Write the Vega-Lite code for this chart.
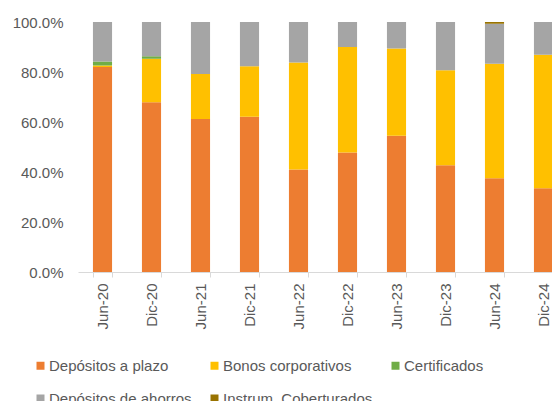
{
  "$schema": "https://vega.github.io/schema/vega-lite/v6.json",
  "autosize": {"type": "none"},
  "padding": {"left": 78, "top": 22, "right": 0, "bottom": 129},
  "width": 474,
  "height": 250,
  "background": "white",
  "config": {
    "font": "Liberation Sans",
    "view": {"stroke": null},
    "axis": {"labelFont": "Liberation Sans", "labelColor": "#595959", "labelFontSize": 15, "grid": false, "title": null}
  },
  "data": {"values": [
    {"periodo": "Jun-20", "serie": "Depósitos a plazo", "orden": 1, "valor": 0.820},
    {"periodo": "Jun-20", "serie": "Bonos corporativos", "orden": 2, "valor": 0.006},
    {"periodo": "Jun-20", "serie": "Certificados", "orden": 3, "valor": 0.016},
    {"periodo": "Jun-20", "serie": "Depósitos de ahorros", "orden": 4, "valor": 0.158},
    {"periodo": "Jun-20", "serie": "Instrum. Coberturados", "orden": 5, "valor": 0},
    {"periodo": "Dic-20", "serie": "Depósitos a plazo", "orden": 1, "valor": 0.679},
    {"periodo": "Dic-20", "serie": "Bonos corporativos", "orden": 2, "valor": 0.174},
    {"periodo": "Dic-20", "serie": "Certificados", "orden": 3, "valor": 0.010},
    {"periodo": "Dic-20", "serie": "Depósitos de ahorros", "orden": 4, "valor": 0.137},
    {"periodo": "Dic-20", "serie": "Instrum. Coberturados", "orden": 5, "valor": 0},
    {"periodo": "Jun-21", "serie": "Depósitos a plazo", "orden": 1, "valor": 0.612},
    {"periodo": "Jun-21", "serie": "Bonos corporativos", "orden": 2, "valor": 0.180},
    {"periodo": "Jun-21", "serie": "Certificados", "orden": 3, "valor": 0},
    {"periodo": "Jun-21", "serie": "Depósitos de ahorros", "orden": 4, "valor": 0.208},
    {"periodo": "Jun-21", "serie": "Instrum. Coberturados", "orden": 5, "valor": 0},
    {"periodo": "Dic-21", "serie": "Depósitos a plazo", "orden": 1, "valor": 0.621},
    {"periodo": "Dic-21", "serie": "Bonos corporativos", "orden": 2, "valor": 0.202},
    {"periodo": "Dic-21", "serie": "Certificados", "orden": 3, "valor": 0},
    {"periodo": "Dic-21", "serie": "Depósitos de ahorros", "orden": 4, "valor": 0.177},
    {"periodo": "Dic-21", "serie": "Instrum. Coberturados", "orden": 5, "valor": 0},
    {"periodo": "Jun-22", "serie": "Depósitos a plazo", "orden": 1, "valor": 0.410},
    {"periodo": "Jun-22", "serie": "Bonos corporativos", "orden": 2, "valor": 0.428},
    {"periodo": "Jun-22", "serie": "Certificados", "orden": 3, "valor": 0},
    {"periodo": "Jun-22", "serie": "Depósitos de ahorros", "orden": 4, "valor": 0.162},
    {"periodo": "Jun-22", "serie": "Instrum. Coberturados", "orden": 5, "valor": 0},
    {"periodo": "Dic-22", "serie": "Depósitos a plazo", "orden": 1, "valor": 0.478},
    {"periodo": "Dic-22", "serie": "Bonos corporativos", "orden": 2, "valor": 0.422},
    {"periodo": "Dic-22", "serie": "Certificados", "orden": 3, "valor": 0},
    {"periodo": "Dic-22", "serie": "Depósitos de ahorros", "orden": 4, "valor": 0.100},
    {"periodo": "Dic-22", "serie": "Instrum. Coberturados", "orden": 5, "valor": 0},
    {"periodo": "Jun-23", "serie": "Depósitos a plazo", "orden": 1, "valor": 0.545},
    {"periodo": "Jun-23", "serie": "Bonos corporativos", "orden": 2, "valor": 0.349},
    {"periodo": "Jun-23", "serie": "Certificados", "orden": 3, "valor": 0},
    {"periodo": "Jun-23", "serie": "Depósitos de ahorros", "orden": 4, "valor": 0.106},
    {"periodo": "Jun-23", "serie": "Instrum. Coberturados", "orden": 5, "valor": 0},
    {"periodo": "Dic-23", "serie": "Depósitos a plazo", "orden": 1, "valor": 0.427},
    {"periodo": "Dic-23", "serie": "Bonos corporativos", "orden": 2, "valor": 0.380},
    {"periodo": "Dic-23", "serie": "Certificados", "orden": 3, "valor": 0},
    {"periodo": "Dic-23", "serie": "Depósitos de ahorros", "orden": 4, "valor": 0.193},
    {"periodo": "Dic-23", "serie": "Instrum. Coberturados", "orden": 5, "valor": 0},
    {"periodo": "Jun-24", "serie": "Depósitos a plazo", "orden": 1, "valor": 0.375},
    {"periodo": "Jun-24", "serie": "Bonos corporativos", "orden": 2, "valor": 0.458},
    {"periodo": "Jun-24", "serie": "Certificados", "orden": 3, "valor": 0},
    {"periodo": "Jun-24", "serie": "Depósitos de ahorros", "orden": 4, "valor": 0.160},
    {"periodo": "Jun-24", "serie": "Instrum. Coberturados", "orden": 5, "valor": 0.007},
    {"periodo": "Dic-24", "serie": "Depósitos a plazo", "orden": 1, "valor": 0.335},
    {"periodo": "Dic-24", "serie": "Bonos corporativos", "orden": 2, "valor": 0.534},
    {"periodo": "Dic-24", "serie": "Certificados", "orden": 3, "valor": 0},
    {"periodo": "Dic-24", "serie": "Depósitos de ahorros", "orden": 4, "valor": 0.131},
    {"periodo": "Dic-24", "serie": "Instrum. Coberturados", "orden": 5, "valor": 0}
  ]},
  "mark": {"type": "bar"},
  "encoding": {
    "x": {
      "field": "periodo",
      "type": "nominal",
      "sort": null,
      "scale": {"range": [0, 490], "paddingInner": 0.61, "paddingOuter": 0.305},
      "axis": {
        "labelAngle": -90,
        "domainColor": "#D9D9D9",
        "tickColor": "#D9D9D9",
        "tickSize": 5,
        "tickBand": "extent",
        "labelPadding": 6
      }
    },
    "y": {
      "field": "valor",
      "type": "quantitative",
      "stack": "zero",
      "scale": {"domain": [0, 1], "nice": false},
      "axis": {
        "values": [0, 0.2, 0.4, 0.6, 0.8, 1],
        "format": ".1%",
        "domain": false,
        "ticks": false,
        "labelPadding": 15
      }
    },
    "color": {
      "field": "serie",
      "type": "nominal",
      "scale": {
        "domain": ["Depósitos a plazo", "Bonos corporativos", "Certificados", "Depósitos de ahorros", "Instrum. Coberturados"],
        "range": ["#ED7D31", "#FFC000", "#70AD47", "#A5A5A5", "#997300"]
      },
      "legend": {
        "title": null,
        "orient": "none",
        "legendX": -45,
        "legendY": 336,
        "direction": "horizontal",
        "columns": 3,
        "gridAlign": "each",
        "columnPadding": 15,
        "rowPadding": 17,
        "padding": 0,
        "symbolType": "square",
        "symbolSize": 64,
        "symbolStrokeWidth": 0,
        "labelFont": "Liberation Sans",
        "labelFontSize": 15,
        "labelColor": "#595959",
        "labelOffset": 1,
        "labelLimit": 300
      }
    },
    "order": {"field": "orden", "type": "quantitative"}
  }
}
